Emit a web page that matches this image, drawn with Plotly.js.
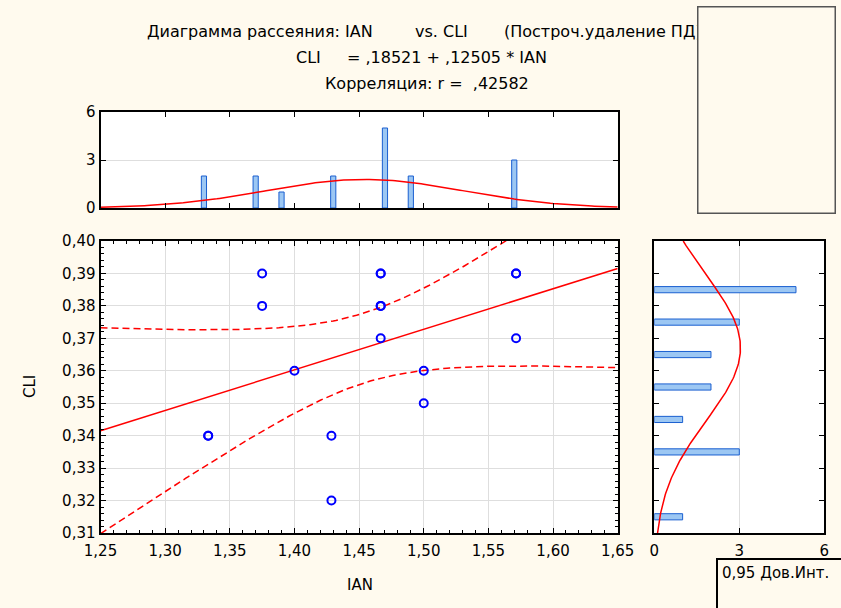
<!DOCTYPE html>
<html><head><meta charset="utf-8">
<script src="https://cdn.plot.ly/plotly-3.0.1.min.js"></script>
<style>html,body{margin:0;padding:0;background:#fffaee;}</style>
</head><body><div id="chart" style="width:841px;height:608px;"></div>
<script>
// ---- data (17 observations, duplicates included) ----
const ianValues = [1.3333,1.3333,1.375,1.375,1.4,1.4286,1.4286,1.4667,1.4667,1.4667,1.4667,1.4667,1.5,1.5,1.5714,1.5714,1.5714];
const cliValues = [0.34,0.34,0.39,0.38,0.36,0.34,0.32,0.39,0.39,0.38,0.38,0.37,0.36,0.35,0.39,0.39,0.37];
const xTicks = [1.25,1.30,1.35,1.40,1.45,1.50,1.55,1.60,1.65];
const yTicks = [0.31,0.32,0.33,0.34,0.35,0.36,0.37,0.38,0.39,0.40];
const countTicks = [0,3,6];
const title1a = 'Диаграмма рассеяния: IAN';
const title1b = 'vs. CLI';
const title1c = '(Построч.удаление ПД)';
const title2a = 'CLI';
const title2b = '= ,18521 + ,12505 * IAN';
const title3 = 'Корреляция: r =  ,42582';
const xTitle = 'IAN', yTitle = 'CLI', ciLabel = '0,95 Дов.Инт.';
const xBinWidth = 0.02, yBinWidth = 0.01, tCrit = 2.131;

// ---- statistics derived from the data ----
const n = ianValues.length;
const mean = a => a.reduce((s,v)=>s+v,0)/a.length;
const mx = mean(ianValues), my = mean(cliValues);
let sxx=0, sxy=0, syy=0;
for (let i=0;i<n;i++){const dx=ianValues[i]-mx, dy=cliValues[i]-my; sxx+=dx*dx; sxy+=dx*dy; syy+=dy*dy;}
const b = sxy/sxx, a0 = my - b*mx;
const sres = Math.sqrt((syy - b*sxy)/(n-2));
const sdx = Math.sqrt(sxx/(n-1)), sdy = Math.sqrt(syy/(n-1));
const pdf = (v,m,s)=>Math.exp(-0.5*((v-m)/s)**2)/(s*Math.sqrt(2*Math.PI));

const gx=[], gl=[], gu=[], gd=[], gnx=[];
for (let k=0;k<=200;k++){
  const x = 1.25 + 0.4*k/200;
  const yh = a0 + b*x;
  const hw = tCrit*sres*Math.sqrt(1/n + (x-mx)**2/sxx);
  gx.push(x); gl.push(yh); gu.push(yh+hw); gd.push(yh-hw);
  gnx.push(n*xBinWidth*pdf(x,mx,sdx));
}
const gy=[], gny=[];
for (let k=0;k<=200;k++){ const y=0.31+0.09*k/200; gy.push(y); gny.push(n*yBinWidth*pdf(y,my,sdy)); }

function binCounts(vals, w){
  const m = new Map();
  vals.forEach(v=>{const c = +( (Math.ceil(v/w - 1e-6) - 0.5)*w ).toFixed(4); m.set(c,(m.get(c)||0)+1);});
  const cs=[...m.keys()].sort((p,q)=>p-q);
  return {centers:cs, counts:cs.map(c=>m.get(c))};
}
const hx = binCounts(ianValues, xBinWidth);
const hy = binCounts(cliValues, yBinWidth);

// ---- layout helpers ----
const W=841, H=608;
const px = v=>v/W, py = v=>1-v/H;
const FONT = 'DejaVu Sans, Arial, sans-serif';
const BG = '#fffaee';
const frame = {showline:true, linewidth:2, linecolor:'#000', mirror:'ticks', ticks:'inside', tickcolor:'#000', zeroline:false};

const red = '#ff0000';
const traces = [
  {x:gx, y:gu, mode:'lines', line:{color:red, width:1.5, dash:'7px,4px'}, xaxis:'x', yaxis:'y', hoverinfo:'skip'},
  {x:gx, y:gd, mode:'lines', line:{color:red, width:1.5, dash:'7px,4px'}, xaxis:'x', yaxis:'y', hoverinfo:'skip'},
  {x:gx, y:gl, mode:'lines', line:{color:red, width:1.5}, xaxis:'x', yaxis:'y'},
  {x:ianValues, y:cliValues, mode:'markers', marker:{symbol:'circle-open', size:8, color:'#0000ff', line:{width:2}}, xaxis:'x', yaxis:'y', cliponaxis:false},
  {type:'bar', x:hx.centers, y:hx.counts, width:0.004, marker:{color:'#9cc7f3', line:{color:'#1a5fd0', width:1}}, xaxis:'x2', yaxis:'y2'},
  {x:gx, y:gnx, mode:'lines', line:{color:red, width:1.5}, xaxis:'x2', yaxis:'y2'},
  {type:'bar', orientation:'h', y:hy.centers, x:hy.counts, width:0.0019, marker:{color:'#9cc7f3', line:{color:'#1a5fd0', width:1}}, xaxis:'x3', yaxis:'y3'},
  {x:gny, y:gy, mode:'lines', line:{color:red, width:1.5}, xaxis:'x3', yaxis:'y3'}
];

const ann = (text,x,y,xa,extra)=>Object.assign({text, x:px(x), y:py(y), xref:'paper', yref:'paper', xanchor:xa||'center', yanchor:'middle', showarrow:false, font:{family:FONT,size:16,color:'#000'}}, extra||{});

const layout = {
  width:W, height:H, margin:{l:0,r:0,t:0,b:0},
  paper_bgcolor:BG, plot_bgcolor:'#ffffff',
  separators:',.', showlegend:false, bargap:0,
  font:{family:FONT, size:15, color:'#000'},
  xaxis:Object.assign({}, frame, {domain:[px(100.5),px(617.7)], range:[1.25,1.65], anchor:'y', tickmode:'array', tickvals:xTicks, tickformat:'.2f', ticklen:5, ticklabelstandoff:3, showgrid:true, gridcolor:'#dedede', gridwidth:1,
    minor:{ticks:'inside', dtick:0.01, tick0:1.25, ticklen:3, tickcolor:'#000', showgrid:false}}),
  yaxis:Object.assign({}, frame, {domain:[py(533),py(241)], range:[0.31,0.40], anchor:'x', tickmode:'array', tickvals:yTicks, tickformat:'.2f', ticklen:5, showgrid:true, gridcolor:'#dedede', gridwidth:1,
    minor:{ticks:'inside', dtick:0.002, tick0:0.31, ticklen:3, tickcolor:'#000', showgrid:false}}),
  xaxis2:Object.assign({}, frame, {domain:[px(100.5),px(617.7)], range:[1.25,1.65], anchor:'y2', tickmode:'array', tickvals:xTicks, ticklen:5, showticklabels:false, showgrid:false}),
  yaxis2:Object.assign({}, frame, {domain:[py(208),py(112)], range:[0,6], anchor:'x2', tickmode:'array', tickvals:countTicks, ticklen:5, showgrid:true, gridcolor:'#dedede'}),
  xaxis3:Object.assign({}, frame, {domain:[px(654.3),px(824.3)], range:[0,6], anchor:'y3', tickmode:'array', tickvals:countTicks, ticklen:5, ticklabelstandoff:3, showgrid:true, gridcolor:'#dedede'}),
  yaxis3:Object.assign({}, frame, {domain:[py(533),py(241)], range:[0.31,0.40], anchor:'x3', tickmode:'array', tickvals:yTicks, ticklen:5, showticklabels:false, showgrid:false}),
  annotations:[
    ann(title1a,145,31,'left'),
    ann(title1b,413,31,'left'),
    ann(title1c,502,31,'left'),
    ann(title2a,294,57,'left'),
    ann(title2b,345,57,'left'),
    ann(title3,323,83,'left'),
    ann(xTitle,360,585,'center',{font:{family:FONT,size:15,color:'#000'}}),
    ann(yTitle,30,387,'center',{textangle:-90, font:{family:FONT,size:15,color:'#000'}}),
    // legend boxes drawn on top of the title text
    {text:' ', x:px(697), y:py(6), xref:'paper', yref:'paper', xanchor:'left', yanchor:'top', showarrow:false, width:136, height:205, bgcolor:BG, bordercolor:'#555555', borderwidth:1.5, borderpad:0},
    {text:ciLabel, x:px(716), y:py(558), xref:'paper', yref:'paper', xanchor:'left', yanchor:'top', align:'left', showarrow:false, width:140, height:60, valign:'top', bgcolor:BG, bordercolor:'#000000', borderwidth:2, borderpad:4, font:{family:FONT,size:15,color:'#000'}}
  ]
};
Plotly.newPlot('chart', traces, layout, {staticPlot:true, displayModeBar:false});
</script></body></html>
